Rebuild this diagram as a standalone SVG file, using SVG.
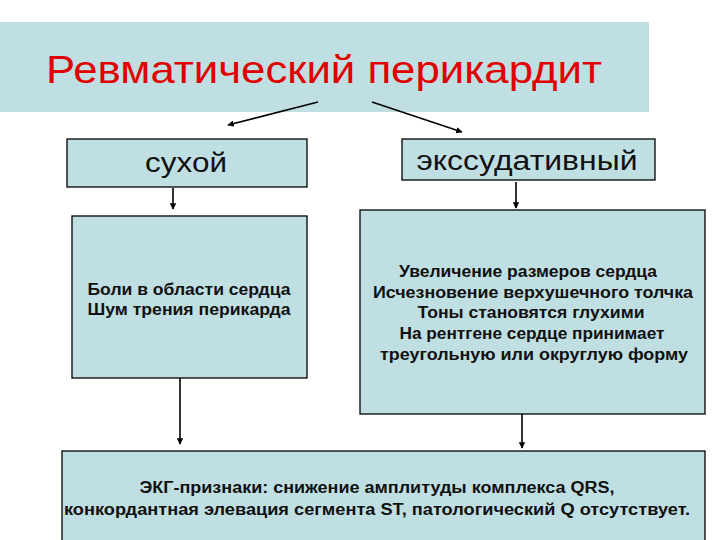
<svg xmlns="http://www.w3.org/2000/svg" width="720" height="540" viewBox="0 0 720 540">
<defs>
<style>
.box{fill:#bfdfe2;stroke:#000;stroke-width:1.3}
.band{fill:#bfdfe2}
.title{font-family:"Liberation Sans",Arial,sans-serif;font-size:39px;fill:#e00000;text-anchor:middle}
.h{font-family:"Liberation Sans",Arial,sans-serif;font-size:27px;fill:#111;text-anchor:middle}
.t{font-family:"Liberation Sans",Arial,sans-serif;font-size:16px;font-weight:bold;fill:#111;text-anchor:middle}
.c{stroke:#000;stroke-width:1.6;fill:none;marker-end:url(#ah)}
</style>
<marker id="ah" viewBox="0 0 10 10" refX="9" refY="5" markerWidth="4" markerHeight="4" orient="auto" markerUnits="strokeWidth">
<path d="M0,0 L10,5 L0,10 z" fill="#000"/>
</marker>
</defs>
<rect width="720" height="540" fill="#fff"/>
<g id="title">
<rect class="band" x="0" y="22" width="649" height="90"/>
<text class="title" x="324" y="83" textLength="556" lengthAdjust="spacingAndGlyphs">Ревматический перикардит</text>
</g>
<g id="dry">
<rect class="box" x="67" y="139" width="240" height="48"/>
<text class="h" x="186" y="172" textLength="82" lengthAdjust="spacingAndGlyphs">сухой</text>
</g>
<g id="exud">
<rect class="box" x="402" y="139" width="253" height="41"/>
<text class="h" x="527" y="170" textLength="221" lengthAdjust="spacingAndGlyphs">экссудативный</text>
</g>
<g id="dry-signs">
<rect class="box" x="72" y="216" width="235" height="162"/>
<text class="t" x="189" y="295" textLength="203" lengthAdjust="spacingAndGlyphs">Боли в области сердца</text>
<text class="t" x="189" y="315" textLength="203" lengthAdjust="spacingAndGlyphs">Шум трения перикарда</text>
</g>
<g id="exud-signs">
<rect class="box" x="360" y="210" width="345" height="204"/>
<text class="t" x="528" y="277" textLength="258" lengthAdjust="spacingAndGlyphs">Увеличение размеров сердца</text>
<text class="t" x="533" y="298" textLength="320" lengthAdjust="spacingAndGlyphs">Исчезновение верхушечного толчка</text>
<text class="t" x="531" y="318" textLength="227" lengthAdjust="spacingAndGlyphs">Тоны становятся глухими</text>
<text class="t" x="532" y="339" textLength="265" lengthAdjust="spacingAndGlyphs">На рентгене сердце принимает</text>
<text class="t" x="534" y="360" textLength="308" lengthAdjust="spacingAndGlyphs">треугольную или округлую форму</text>
</g>
<g id="ecg">
<rect class="box" x="62" y="451" width="643" height="100"/>
<text class="t" x="377" y="493" textLength="475" lengthAdjust="spacingAndGlyphs">ЭКГ-признаки: снижение амплитуды комплекса QRS,</text>
<text class="t" x="377" y="515" textLength="626" lengthAdjust="spacingAndGlyphs">конкордантная элевация сегмента ST, патологический Q отсутствует.</text>
</g>
<g id="connectors">
<line class="c" x1="318" y1="102" x2="228" y2="125"/>
<line class="c" x1="372" y1="102" x2="462" y2="132"/>
<line class="c" x1="173" y1="188" x2="173" y2="209"/>
<line class="c" x1="516" y1="182" x2="516" y2="208"/>
<line class="c" x1="180" y1="378" x2="180" y2="444"/>
<line class="c" x1="522" y1="414" x2="522" y2="448"/>
</g>
</svg>
